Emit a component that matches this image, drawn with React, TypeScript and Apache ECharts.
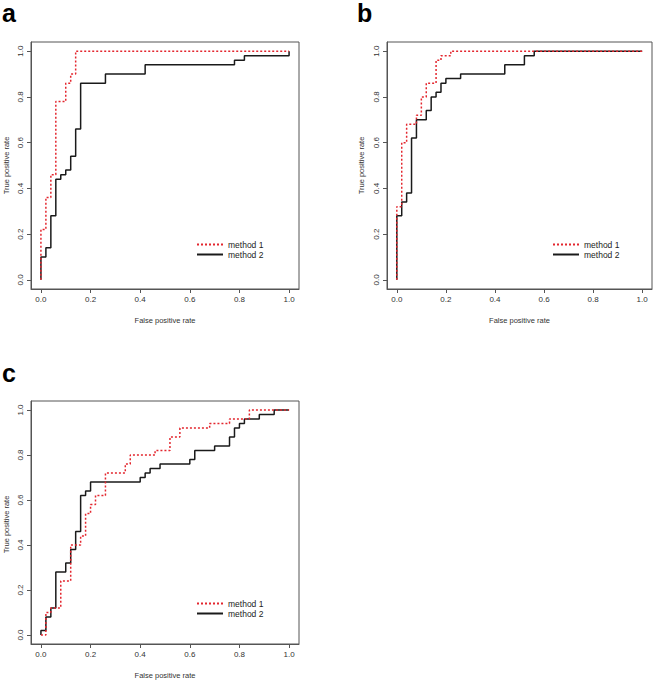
import React, { useEffect, useRef } from "react";
import * as echarts from "echarts";

// Panel a
const aFpr1 = [0, 0, 0.02, 0.04, 0.06, 0.10, 0.12, 0.14, 1.0];
const aTpr1 = [0, 0.22, 0.36, 0.46, 0.78, 0.86, 0.90, 1.0, 1.0];
const aFpr2 = [0, 0, 0.02, 0.04, 0.06, 0.08, 0.10, 0.12, 0.14, 0.16, 0.26, 0.42, 0.78, 0.82, 1.0];
const aTpr2 = [0, 0.10, 0.14, 0.28, 0.44, 0.46, 0.48, 0.54, 0.66, 0.86, 0.90, 0.94, 0.96, 0.98, 1.0];

// Panel b
const bFpr1 = [0, 0, 0.02, 0.04, 0.08, 0.10, 0.12, 0.16, 0.18, 0.22, 1.0];
const bTpr1 = [0, 0.32, 0.60, 0.68, 0.72, 0.80, 0.86, 0.96, 0.98, 1.0, 1.0];
const bFpr2 = [0, 0, 0.02, 0.04, 0.06, 0.08, 0.12, 0.14, 0.16, 0.18, 0.20, 0.26, 0.44, 0.52, 0.56, 1.0];
const bTpr2 = [0, 0.28, 0.34, 0.38, 0.62, 0.70, 0.74, 0.80, 0.82, 0.86, 0.88, 0.90, 0.94, 0.98, 1.0, 1.0];

// Panel c
const cFpr1 = [0, 0.02, 0.04, 0.08, 0.12, 0.16, 0.18, 0.20, 0.22, 0.26, 0.34, 0.36, 0.46, 0.52, 0.56, 0.68, 0.76, 0.84, 1.0];
const cTpr1 = [0, 0.10, 0.12, 0.24, 0.40, 0.44, 0.54, 0.58, 0.62, 0.72, 0.76, 0.80, 0.82, 0.88, 0.92, 0.94, 0.96, 1.0, 1.0];
const cFpr2 = [0, 0, 0.02, 0.04, 0.06, 0.10, 0.12, 0.14, 0.16, 0.18, 0.20, 0.40, 0.42, 0.44, 0.48, 0.60, 0.62, 0.70, 0.76, 0.78, 0.80, 0.82, 0.88, 0.94, 1.0];
const cTpr2 = [0, 0.02, 0.08, 0.12, 0.28, 0.32, 0.38, 0.46, 0.62, 0.64, 0.68, 0.70, 0.72, 0.74, 0.76, 0.78, 0.82, 0.84, 0.88, 0.92, 0.94, 0.96, 0.98, 1.0, 1.0];

const tickValues = [0, 0.2, 0.4, 0.6, 0.8, 1.0];
const seriesNames = ["method 1", "method 2"];
const panelLetters = ["a", "b", "c"];
const xTitle = "False positive rate";
const yTitle = "True positive rate";

const FONT = "'Liberation Sans', Arial, Helvetica, sans-serif";
const RED = "#e3262e";
const BLACK = "#1a1a1a";
const AXIS = "#555555";

const panels = [
  { fpr1: aFpr1, tpr1: aTpr1, fpr2: aFpr2, tpr2: aTpr2, grid: { left: 31, top: 42, width: 268, height: 247 }, legend: { left: 196, top: 240 }, letter: { x: 2, y: 13 }, yTitleX: 6 },
  { fpr1: bFpr1, tpr1: bTpr1, fpr2: bFpr2, tpr2: bTpr2, grid: { left: 387, top: 42, width: 265, height: 247 }, legend: { left: 552, top: 240 }, letter: { x: 357, y: 13 }, yTitleX: 361 },
  { fpr1: cFpr1, tpr1: cTpr1, fpr2: cFpr2, tpr2: cTpr2, grid: { left: 31, top: 401, width: 268, height: 247 }, legend: { left: 196, top: 599 }, letter: { x: 2, y: 373 }, yTitleX: 6 },
];

function pairs(x: number[], y: number[]) {
  return x.map((v, i) => [v, y[i]]);
}

export default function App() {
  const ref = useRef<HTMLDivElement>(null);
  useEffect(() => {
    if (!ref.current) return;
    const chart = echarts.init(ref.current, undefined, { renderer: "svg" });
    const grids: any[] = [];
    const xAxes: any[] = [];
    const yAxes: any[] = [];
    const series: any[] = [];
    const legends: any[] = [];
    const graphics: any[] = [];
    panels.forEach((p, i) => {
      grids.push({ ...p.grid, show: true, borderColor: AXIS, borderWidth: 1, containLabel: false });
      const common = {
        type: "value",
        min: -0.04,
        max: 1.04,
        gridIndex: i,
        splitLine: { show: false },
        axisLine: { show: true, onZero: false, lineStyle: { color: AXIS, width: 1 } },
        axisTick: { show: true, length: 4, customValues: tickValues, lineStyle: { color: AXIS } },
        axisLabel: {
          customValues: tickValues,
          formatter: (v: number) => v.toFixed(1),
          fontSize: 8,
          color: "#333",
          fontFamily: FONT,
        },
      };
      xAxes.push({
        ...common,
        name: xTitle,
        nameLocation: "middle",
        nameGap: 27,
        nameTextStyle: { fontSize: 7.5, color: "#333", fontFamily: FONT },
        axisLabel: { ...common.axisLabel, margin: 6 },
      });
      yAxes.push({ ...common, axisLabel: { ...common.axisLabel, margin: 7, rotate: 90 } });
      series.push({
        name: seriesNames[1],
        type: "line",
        xAxisIndex: i,
        yAxisIndex: i,
        step: "end",
        symbol: "none",
        data: pairs(p.fpr2, p.tpr2),
        lineStyle: { color: BLACK, width: 1.5 },
        itemStyle: { color: BLACK },
      });
      series.push({
        name: seriesNames[0],
        type: "line",
        xAxisIndex: i,
        yAxisIndex: i,
        step: "end",
        symbol: "none",
        data: pairs(p.fpr1, p.tpr1),
        lineStyle: { color: RED, width: 1.5, type: [2, 2] },
        itemStyle: { color: RED },
      });
      legends.push({
        data: seriesNames,
        orient: "vertical",
        left: p.legend.left,
        top: p.legend.top,
        itemWidth: 26,
        itemHeight: 10,
        itemGap: 1,
        padding: 0,
        selectedMode: false,
        itemStyle: { opacity: 0 },
        textStyle: { fontSize: 8.5, color: "#222", fontFamily: FONT },
      });
      graphics.push({
        type: "text",
        x: p.letter.x,
        y: p.letter.y,
        style: {
          text: panelLetters[i],
          fontSize: 25,
          fontWeight: "bold",
          fontFamily: FONT,
          fill: "#000",
          verticalAlign: "middle",
          lineHeight: 25,
        },
      });
      graphics.push({
        type: "text",
        x: p.yTitleX,
        y: p.grid.top + p.grid.height / 2,
        rotation: Math.PI / 2,
        style: {
          text: yTitle,
          fontSize: 7.5,
          fontFamily: FONT,
          fill: "#333",
          align: "center",
          verticalAlign: "middle",
        },
      });
    });
    chart.setOption({
      animation: false,
      backgroundColor: "#ffffff",
      grid: grids,
      xAxis: xAxes,
      yAxis: yAxes,
      series,
      legend: legends,
      graphic: graphics,
    });
    return () => chart.dispose();
  }, []);
  return <div ref={ref} style={{ position: "absolute", left: 0, top: 0, width: 656, height: 680 }} />;
}
